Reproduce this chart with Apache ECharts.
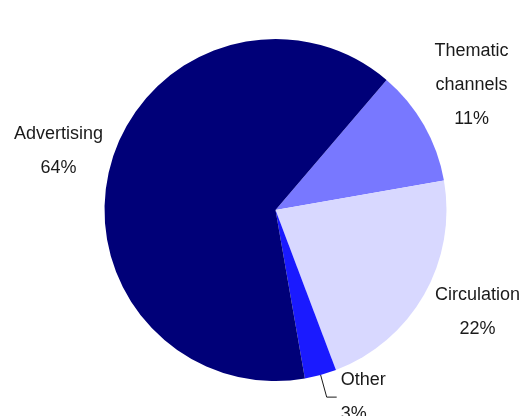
<!DOCTYPE html>
<html>
<head>
<meta charset="utf-8">
<style>
  html, body { margin: 0; padding: 0; background: #ffffff; }
  #chart { width: 521px; height: 416px; }
</style>
<script src="https://cdn.jsdelivr.net/npm/echarts@6/dist/echarts.min.js"></script>
</head>
<body>
<div id="chart"></div>
<script>
// Revenue breakdown (shares, %)
const categories = ['Thematic\nchannels', 'Circulation', 'Other', 'Advertising'];
const shares = [11, 22, 3, 64];
const sliceColors = ['#7878ff', '#d8d8ff', '#1a1aff', '#000078'];

// Pie geometry (px)
const CX = 275.5, CY = 210, R = 171;
const START_CW = 40.5;          // first slice starts this many degrees clockwise from 12 o'clock
const LABEL_R = 228;            // radius at which the large labels are centred
const OTHER_IDX = categories.indexOf('Other');
// small hand offsets for the large labels [dx, dy]
const labelNudge = [[-2, -12], [4, -11], [0, 0], [3, 1]];

// mid angle of each slice, degrees clockwise from 12 o'clock
const total = shares.reduce((a, b) => a + b, 0);
const midAngles = [];
let acc = START_CW;
shares.forEach(v => {
  const span = v / total * 360;
  midAngles.push(acc + span / 2);
  acc += span;
});

const FONT = "'Liberation Sans', Arial, sans-serif";

const chart = echarts.init(document.getElementById('chart'), null, { renderer: 'canvas' });
chart.setOption({
  animation: false,
  backgroundColor: '#ffffff',
  series: [{
    type: 'pie',
    center: [CX, CY],
    radius: [0, R],
    startAngle: 90 - START_CW,
    clockwise: true,
    avoidLabelOverlap: false,
    itemStyle: { borderWidth: 0 },
    label: {
      show: true,
      position: 'outside',
      color: '#1a1a1a',
      fontFamily: FONT,
      fontSize: 18,
      lineHeight: 34,
      distanceToLabelLine: 4,
      formatter: p => p.name + '\n' + p.value + '%'
    },
    labelLine: { show: false },
    labelLayout: function (p) {
      if (p.dataIndex === OTHER_IDX) return {};
      const a = midAngles[p.dataIndex] * Math.PI / 180;
      const n = labelNudge[p.dataIndex];
      return {
        x: CX + LABEL_R * Math.sin(a) + n[0],
        y: CY - LABEL_R * Math.cos(a) + n[1],
        align: 'center',
        verticalAlign: 'middle'
      };
    },
    data: categories.map((name, i) => ({
      name: name,
      value: shares[i],
      itemStyle: { color: sliceColors[i] },
      labelLine: i === OTHER_IDX
        ? { show: true, length: 23, length2: 10, lineStyle: { color: '#1a1a1a', width: 1 } }
        : { show: false }
    })),
    emphasis: { disabled: true }
  }]
});
</script>
</body>
</html>
